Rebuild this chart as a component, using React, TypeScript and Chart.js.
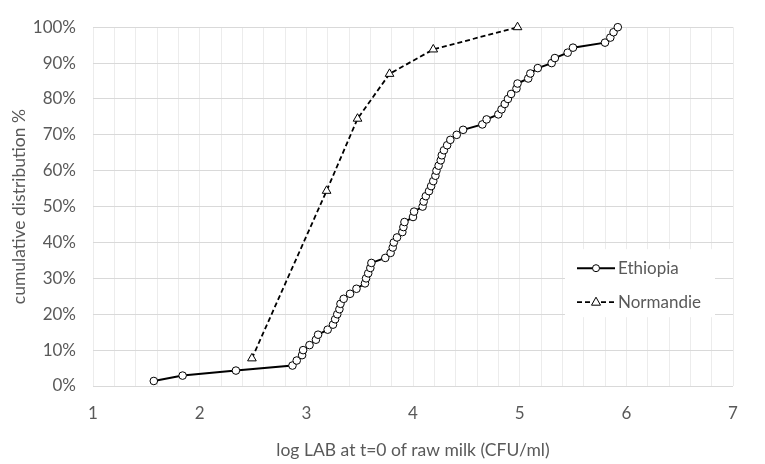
import { useEffect, useRef } from 'react';
import { Chart, registerables, type Plugin } from 'chart.js';

Chart.register(...registerables);

// log LAB values (x) and cumulative share (%)
const ethiopiaLog = [
  1.57, 1.84, 2.34, 2.87, 2.91, 2.96, 2.97, 3.03, 3.09, 3.11,
  3.2, 3.25, 3.27, 3.29, 3.31, 3.32, 3.35, 3.41, 3.47, 3.55,
  3.56, 3.58, 3.6, 3.61, 3.74, 3.79, 3.81, 3.82, 3.85, 3.9,
  3.91, 3.92, 4.0, 4.01, 4.09, 4.1, 4.12, 4.15, 4.17, 4.19,
  4.21, 4.22, 4.24, 4.26, 4.27, 4.29, 4.32, 4.35, 4.41, 4.47,
  4.65, 4.69, 4.8, 4.83, 4.86, 4.89, 4.92, 4.97, 4.98, 5.08,
  5.1, 5.17, 5.3, 5.33, 5.45, 5.5, 5.8, 5.85, 5.88, 5.92,
];
const ethiopiaCum = [
  1.4, 2.9, 4.3, 5.7, 7.1, 8.6, 10.0, 11.4, 12.9, 14.3,
  15.7, 17.1, 18.6, 20.0, 21.4, 22.9, 24.3, 25.7, 27.1, 28.6,
  30.0, 31.4, 32.9, 34.3, 35.7, 37.1, 38.6, 40.0, 41.4, 42.9,
  44.3, 45.7, 47.1, 48.6, 50.0, 51.4, 52.9, 54.3, 55.7, 57.1,
  58.6, 60.0, 61.4, 62.9, 64.3, 65.7, 67.1, 68.6, 70.0, 71.4,
  72.9, 74.3, 75.7, 77.1, 78.6, 80.0, 81.4, 82.9, 84.3, 85.7,
  87.1, 88.6, 90.0, 91.4, 92.9, 94.3, 95.7, 97.1, 98.6, 100,
];
const normandieLog = [2.49, 3.19, 3.48, 3.78, 4.19, 4.98];
const normandieCum = [7.7, 54.4, 74.5, 87.0, 93.8, 100];

const seriesNames = ['Ethiopia', 'Normandie'];
const xTitle = 'log LAB at t=0 of raw milk (CFU/ml)';
const yTitle = 'cumulative distribution %';

const FONT = 'Lato, "Open Sans", sans-serif';
const TEXT = '#595959';

// Excel-like legend box sitting inside the plot area
const legendPlugin: Plugin<'line'> = {
  id: 'excelLegend',
  afterDatasetsDraw(chart) {
    const { ctx, chartArea } = chart;
    const left = chartArea.right - 168;
    const top = chartArea.top + 222;
    ctx.save();
    ctx.fillStyle = '#ffffff';
    ctx.fillRect(left, top, 150, 68);
    chart.data.datasets.forEach((ds: any, i) => {
      const cy = top + 19 + i * 34;
      const x0 = left + 12;
      const x1 = left + 50;
      const mx = (x0 + x1) / 2;
      ctx.strokeStyle = '#000';
      ctx.lineWidth = ds.borderWidth;
      ctx.setLineDash(ds.borderDash || []);
      ctx.beginPath();
      ctx.moveTo(x0, cy);
      ctx.lineTo(x1, cy);
      ctx.stroke();
      ctx.setLineDash([]);
      ctx.lineWidth = 1;
      ctx.fillStyle = '#fff';
      ctx.beginPath();
      if (ds.pointStyle === 'triangle') {
        const r = 5;
        ctx.moveTo(mx, cy - r);
        ctx.lineTo(mx + r * 0.9, cy + r * 0.6);
        ctx.lineTo(mx - r * 0.9, cy + r * 0.6);
        ctx.closePath();
      } else {
        ctx.arc(mx, cy, 3.5, 0, Math.PI * 2);
      }
      ctx.fill();
      ctx.stroke();
      ctx.fillStyle = TEXT;
      ctx.font = `17px ${FONT}`;
      ctx.textBaseline = 'middle';
      ctx.fillText(ds.label, left + 53, cy);
    });
    ctx.restore();
  },
};

export default function App() {
  const canvasRef = useRef<HTMLCanvasElement>(null);
  const chartRef = useRef<Chart | null>(null);

  useEffect(() => {
    document.body.style.margin = '0';
    if (!canvasRef.current) return;
    if (chartRef.current) chartRef.current.destroy();

    chartRef.current = new Chart(canvasRef.current, {
      type: 'line',
      data: {
        datasets: [
          {
            label: seriesNames[0],
            data: ethiopiaLog.map((x, i) => ({ x, y: ethiopiaCum[i] })),
            borderColor: '#000',
            borderWidth: 2,
            pointStyle: 'circle',
            pointRadius: 3.8,
            pointBorderWidth: 1,
            pointBackgroundColor: '#fff',
            pointBorderColor: '#000',
            tension: 0,
            clip: false,
          },
          {
            label: seriesNames[1],
            data: normandieLog.map((x, i) => ({ x, y: normandieCum[i] })),
            borderColor: '#000',
            borderWidth: 1.8,
            borderDash: [5, 3],
            pointStyle: 'triangle',
            pointRadius: 5,
            pointBorderWidth: 1,
            pointBackgroundColor: '#fff',
            pointBorderColor: '#000',
            tension: 0,
            clip: false,
          },
        ],
      },
      options: {
        responsive: false,
        animation: false,
        layout: { padding: { top: 22, right: 32, left: 0, bottom: 0 } },
        plugins: {
          legend: { display: false },
          tooltip: { enabled: false },
        },
        scales: {
          x: {
            type: 'linear',
            min: 1,
            max: 7,
            border: { display: false },
            grid: { color: '#ececec', lineWidth: 1, drawTicks: false },
            ticks: {
              stepSize: 0.2,
              autoSkip: false,
              maxRotation: 0,
              padding: 17,
              color: TEXT,
              font: { family: FONT, size: 17 },
              callback: (v) => {
                const n = Number(v);
                return Math.abs(n - Math.round(n)) < 1e-6 ? String(Math.round(n)) : '';
              },
            },
            title: {
              display: true,
              text: xTitle,
              color: TEXT,
              font: { family: FONT, size: 17.5 },
              padding: { top: 0, bottom: 3 },
            },
            afterFit: (scale) => {
              scale.height = 78;
            },
          },
          y: {
            min: 0,
            max: 100,
            border: { display: false },
            grid: { color: '#d9d9d9', lineWidth: 1, drawTicks: false },
            ticks: {
              stepSize: 10,
              padding: 17,
              color: TEXT,
              font: { family: FONT, size: 17 },
              callback: (v) => `${v}%`,
            },
            title: {
              display: true,
              text: yTitle,
              color: TEXT,
              font: { family: FONT, size: 17.5 },
              padding: { top: 9, bottom: 0 },
            },
            afterFit: (scale) => {
              scale.width = 93;
            },
          },
        },
      },
      plugins: [legendPlugin],
    });

    return () => {
      if (chartRef.current) {
        chartRef.current.destroy();
        chartRef.current = null;
      }
    };
  }, []);

  return (
    <div style={{ width: 765, height: 464, background: '#fff' }}>
      <canvas ref={canvasRef} width={765} height={464} />
    </div>
  );
}
